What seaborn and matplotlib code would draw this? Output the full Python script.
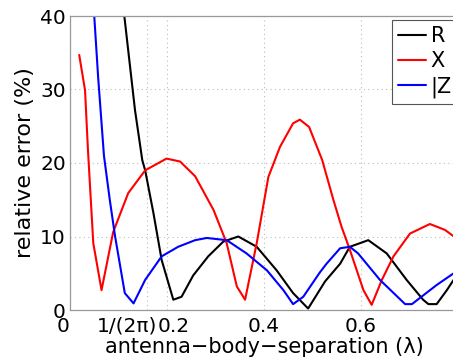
import numpy as np
import pandas as pd
import matplotlib
matplotlib.use("Agg")
import matplotlib.pyplot as plt
import matplotlib.transforms as mtrans
import seaborn as sns

# R (resistance) relative error
r_x = [0.112, 0.134, 0.149, 0.155, 0.172, 0.189, 0.213, 0.230, 0.254, 0.285, 0.316,
       0.347, 0.385, 0.426, 0.460, 0.491, 0.526, 0.557, 0.577, 0.615, 0.653, 0.694,
       0.728, 0.739, 0.756, 0.777, 0.800]
r_y = [40.0, 27.2, 20.4, 19.0, 13.2, 6.8, 1.4, 1.8, 4.7, 7.3, 9.3,
       10.0, 8.6, 5.4, 2.3, 0.2, 3.9, 6.3, 8.6, 9.5, 7.7, 4.1,
       1.4, 0.8, 0.8, 2.7, 5.0]

# X (reactance) relative error
x_x = [0.019, 0.031, 0.037, 0.048, 0.065, 0.089, 0.120, 0.155, 0.199, 0.227, 0.258,
       0.296, 0.323, 0.344, 0.361, 0.385, 0.409, 0.433, 0.460, 0.474, 0.493, 0.520,
       0.543, 0.560, 0.577, 0.605, 0.622, 0.643, 0.667, 0.701, 0.742, 0.773, 0.800]
x_y = [34.7, 29.9, 21.8, 9.1, 2.7, 10.6, 15.9, 19.0, 20.6, 20.2, 18.2,
       13.6, 9.1, 3.2, 1.4, 9.1, 18.1, 22.2, 25.4, 25.9, 24.9, 20.4,
       15.0, 11.3, 8.2, 2.7, 0.7, 4.1, 7.3, 10.4, 11.7, 10.9, 9.6]

# |Z| relative error
z_x = [0.050, 0.058, 0.070, 0.082, 0.093, 0.113, 0.131, 0.155, 0.189, 0.223, 0.258,
       0.282, 0.323, 0.364, 0.406, 0.440, 0.460, 0.481, 0.515, 0.529, 0.557, 0.577,
       0.594, 0.639, 0.691, 0.705, 0.756, 0.800]
z_y = [40.0, 31.7, 21.0, 15.0, 10.0, 2.3, 0.9, 4.1, 7.3, 8.6, 9.5,
       9.8, 9.5, 7.7, 5.4, 2.7, 0.8, 1.8, 5.1, 6.3, 8.4, 8.6,
       7.7, 4.1, 0.8, 0.8, 3.4, 5.4]

x_ticks = [0, 1 / (2 * np.pi), 0.2, 0.4, 0.6]
x_ticklabels = ["0", "1/(2\u03c0)", "0.2", "0.4", "0.6"]
y_ticks = [0, 10, 20, 30, 40]

df = pd.concat([
    pd.DataFrame({"sep": r_x, "err": r_y, "q": "R"}),
    pd.DataFrame({"sep": x_x, "err": x_y, "q": "X"}),
    pd.DataFrame({"sep": z_x, "err": z_y, "q": "|Z|"}),
], ignore_index=True)

sns.set_style("white")
plt.rcParams["font.family"] = ["DejaVu Sans"]
plt.rcParams["text.color"] = "black"
plt.rcParams["axes.labelcolor"] = "black"

fig = plt.figure(figsize=(4.53, 3.63), dpi=100)
ax = fig.add_axes([70 / 453, 53 / 363, 388 / 453, 294 / 363])

sns.lineplot(data=df, x="sep", y="err", hue="q", sort=False, estimator=None,
             palette={"R": "black", "X": "#ff0000", "|Z|": "#0000ff"},
             linewidth=1.5, ax=ax)

ax.set_xlim(0, 0.8)
ax.set_ylim(0, 40)
ax.set_xticks(x_ticks)
ax.set_xticklabels(x_ticklabels)
ax.set_yticks(y_ticks)
ax.tick_params(direction="in", labelsize=14.5, length=4, color="#888888",
               labelcolor="black")
ax.tick_params(axis="x", pad=5)
ax.tick_params(axis="y", pad=3)
ax.grid(True, linestyle=(0, (1, 3)), color="#bbbbbb", linewidth=0.8)
for s in ax.spines.values():
    s.set_color("#999999")
    s.set_linewidth(0.9)

# crowded tick labels are nudged apart as in the original
shifts = [-7, -20, 7, 0, 0]
for lab, dx in zip(ax.get_xticklabels(), shifts):
    lab.set_transform(lab.get_transform() +
                      mtrans.ScaledTranslation(dx / 100, 0, fig.dpi_scale_trans))

ax.set_xlabel("antenna\u2212body\u2212separation (\u03bb)", fontsize=15, labelpad=1)
ax.set_ylabel("relative error (%)", fontsize=16, labelpad=4)

leg = ax.legend(loc="upper left", bbox_to_anchor=(392 / 453, 1 - 20 / 363),
                bbox_transform=fig.transFigure, fontsize=15, handlelength=1.35,
                handletextpad=0.2, borderpad=0.3, labelspacing=0.25,
                fancybox=False, framealpha=1, borderaxespad=0)
leg.get_frame().set_edgecolor("#555555")
leg.get_frame().set_linewidth(0.8)

fig.savefig("out.png", dpi=100)
